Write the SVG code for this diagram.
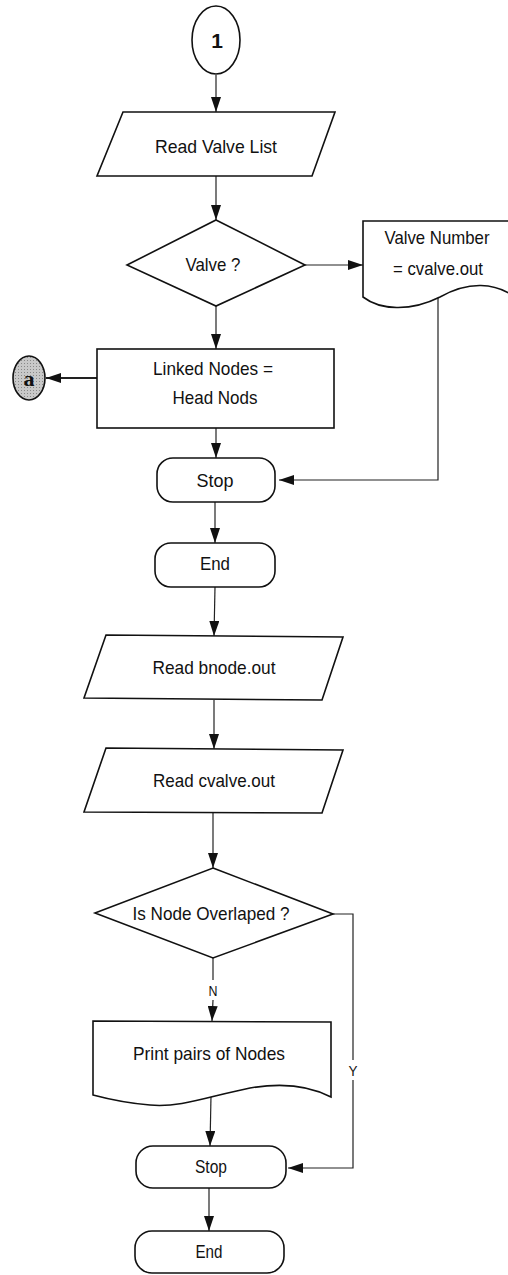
<svg xmlns="http://www.w3.org/2000/svg" width="508" height="1275" viewBox="0 0 508 1275">
  <style>
    .shape { fill: #fff; stroke: #111; stroke-width: 1.6; }
    .line { fill: none; stroke: #222; stroke-width: 1.2; }
    .lbl { font-family: "Liberation Sans", Arial, sans-serif; font-size: 19px; fill: #111; text-anchor: middle; }
    .small { font-size: 18px; }
    .tag { font-size: 15px; }
  </style>
  <defs>
    <marker id="arrow" markerWidth="15" markerHeight="10" refX="15" refY="5" orient="auto" markerUnits="userSpaceOnUse">
      <path d="M0,0 L15,5 L0,10 Z" fill="#111"/>
    </marker>
    <pattern id="dots" width="3" height="3" patternUnits="userSpaceOnUse">
      <rect width="3" height="3" fill="#c8c8c8"/>
      <rect width="1" height="1" fill="#888"/>
    </pattern>
  </defs>

  <g id="connectors">
    <line class="line" x1="216" y1="75" x2="216" y2="112" marker-end="url(#arrow)"/>
    <line class="line" x1="216" y1="176" x2="216" y2="220" marker-end="url(#arrow)"/>
    <line class="line" x1="305" y1="265" x2="363" y2="265" marker-end="url(#arrow)"/>
    <line class="line" x1="216" y1="306" x2="216" y2="349" marker-end="url(#arrow)"/>
    <line class="line" x1="97" y1="378" x2="46" y2="378" marker-end="url(#arrow)" style="stroke-width:1.8"/>
    <line class="line" x1="216" y1="428" x2="216" y2="458" marker-end="url(#arrow)"/>
    <polyline class="line" points="438,296 438,480 279,480" marker-end="url(#arrow)"/>
    <line class="line" x1="215" y1="502" x2="215" y2="543" marker-end="url(#arrow)"/>
    <line class="line" x1="215" y1="587" x2="214" y2="636" marker-end="url(#arrow)"/>
    <line class="line" x1="214" y1="700" x2="214" y2="749" marker-end="url(#arrow)"/>
    <line class="line" x1="213" y1="813" x2="213" y2="868" marker-end="url(#arrow)"/>
    <line class="line" x1="213" y1="958" x2="213" y2="980"/>
    <line class="line" x1="213" y1="1000" x2="212" y2="1021" marker-end="url(#arrow)"/>
    <polyline class="line" points="333,914 353,914 353,1060"/>
    <polyline class="line" points="353,1080 353,1168 288,1168" marker-end="url(#arrow)"/>
    <line class="line" x1="211" y1="1096" x2="210" y2="1146" marker-end="url(#arrow)"/>
    <line class="line" x1="209" y1="1188" x2="209" y2="1231" marker-end="url(#arrow)"/>
    <text class="lbl tag" x="213" y="996" textLength="9" lengthAdjust="spacingAndGlyphs">N</text>
    <text class="lbl tag" x="353" y="1076" textLength="9" lengthAdjust="spacingAndGlyphs">Y</text>
  </g>

  <g id="connector-1">
    <ellipse class="shape" cx="216" cy="40" rx="24" ry="34"/>
    <text class="lbl" x="217" y="48" style="font-weight:bold;font-size:21px">1</text>
  </g>

  <g id="read-valve-list">
    <polygon class="shape" points="123,112 335,112 312,176 97,176"/>
    <text class="lbl" x="216" y="153" textLength="122" lengthAdjust="spacingAndGlyphs">Read Valve  List</text>
  </g>

  <g id="valve-decision">
    <polygon class="shape" points="216,220 305,265 216,306 127,265"/>
    <text class="lbl" x="213" y="271" textLength="55" lengthAdjust="spacingAndGlyphs">Valve ?</text>
  </g>

  <g id="valve-number-doc">
    <path class="shape" d="M363,221 L512,221 L512,295 C495,284 470,280 440,297 C410,312 380,310 363,297 Z"/>
    <text class="lbl" x="437" y="244" textLength="105" lengthAdjust="spacingAndGlyphs">Valve Number</text>
    <text class="lbl" x="438" y="275" textLength="90" lengthAdjust="spacingAndGlyphs">= cvalve.out</text>
  </g>

  <g id="linked-nodes">
    <rect class="shape" x="97" y="349" width="237" height="79"/>
    <text class="lbl" x="213" y="375" textLength="120" lengthAdjust="spacingAndGlyphs">Linked Nodes =</text>
    <text class="lbl" x="215" y="404" textLength="85" lengthAdjust="spacingAndGlyphs">Head Nods</text>
  </g>

  <g id="connector-a">
    <ellipse cx="29" cy="378" rx="16" ry="22" fill="url(#dots)" stroke="#111" stroke-width="1.6"/>
    <text x="29" y="386" style="font-family:'Liberation Serif',serif;font-size:22px;font-weight:bold;text-anchor:middle;fill:#111">a</text>
  </g>

  <g id="stop-1">
    <rect class="shape" x="157" y="458" width="118" height="44" rx="16" ry="16"/>
    <text class="lbl" x="215" y="487" textLength="37" lengthAdjust="spacingAndGlyphs">Stop</text>
  </g>

  <g id="end-1">
    <rect class="shape" x="155" y="543" width="120" height="44" rx="16" ry="16"/>
    <text class="lbl" x="215" y="570" textLength="30" lengthAdjust="spacingAndGlyphs">End</text>
  </g>

  <g id="read-bnode">
    <polygon class="shape" points="106,635 343,637 322,700 84,698"/>
    <text class="lbl" x="214" y="674" textLength="123" lengthAdjust="spacingAndGlyphs">Read bnode.out</text>
  </g>

  <g id="read-cvalve">
    <polygon class="shape" points="106,748 343,750 322,813 84,812"/>
    <text class="lbl" x="214" y="787" textLength="122" lengthAdjust="spacingAndGlyphs">Read cvalve.out</text>
  </g>

  <g id="overlap-decision">
    <polygon class="shape" points="213,868 333,914 213,958 95,913"/>
    <text class="lbl" x="211" y="920" textLength="157" lengthAdjust="spacingAndGlyphs">Is Node Overlaped ?</text>
  </g>

  <g id="print-pairs-doc">
    <path class="shape" d="M93,1021 L331,1022 L331,1097 C310,1086 285,1082 250,1088 C210,1096 180,1108 150,1105 C125,1103 108,1099 93,1095 Z"/>
    <text class="lbl" x="209" y="1060" textLength="152" lengthAdjust="spacingAndGlyphs">Print pairs of Nodes</text>
  </g>

  <g id="stop-2">
    <rect class="shape" x="136" y="1146" width="150" height="42" rx="17" ry="17"/>
    <text class="lbl small" x="211" y="1173" textLength="32" lengthAdjust="spacingAndGlyphs">Stop</text>
  </g>

  <g id="end-2">
    <rect class="shape" x="135" y="1231" width="149" height="42" rx="17" ry="17"/>
    <text class="lbl small" x="209" y="1258" textLength="27" lengthAdjust="spacingAndGlyphs">End</text>
  </g>
</svg>
